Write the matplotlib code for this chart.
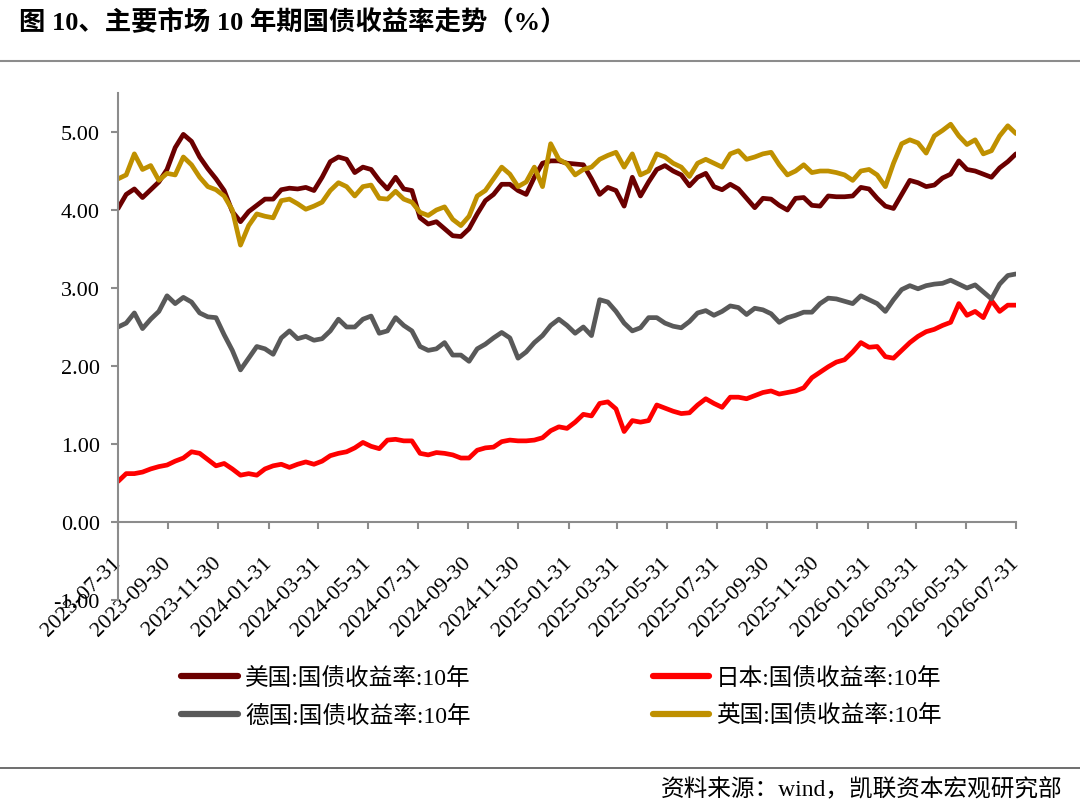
import numpy as np
import pandas as pd
import matplotlib

matplotlib.use("Agg")
from matplotlib import pyplot as plt
from matplotlib.lines import Line2D

plt.rcParams['font.family'] = ['Liberation Serif', 'Noto Sans CJK SC', 'DejaVu Sans']
plt.rcParams['axes.unicode_minus'] = False

# approx. every 10 days, 2023-07-31 .. 2026-07-31
us = [4.02, 4.20, 4.27, 4.16, 4.26, 4.36, 4.52, 4.80, 4.97, 4.88,
      4.68, 4.53, 4.40, 4.25, 3.98, 3.85, 3.98, 4.06, 4.14, 4.14,
      4.26, 4.28, 4.27, 4.29, 4.25, 4.42, 4.62, 4.68, 4.65, 4.48,
      4.55, 4.52, 4.38, 4.27, 4.42, 4.27, 4.25, 3.90, 3.82, 3.85,
      3.76, 3.67, 3.66, 3.76, 3.95, 4.12, 4.20, 4.33, 4.33, 4.25,
      4.20, 4.42, 4.60, 4.63, 4.63, 4.60, 4.59, 4.58, 4.40, 4.20,
      4.29, 4.25, 4.05, 4.42, 4.18, 4.36, 4.52, 4.57, 4.50, 4.45,
      4.31, 4.42, 4.47, 4.30, 4.26, 4.33, 4.27, 4.15, 4.03, 4.15,
      4.14, 4.06, 4.00, 4.15, 4.16, 4.06, 4.05, 4.18, 4.17, 4.17,
      4.18, 4.29, 4.27, 4.15, 4.05, 4.02, 4.20, 4.38, 4.35, 4.30,
      4.32, 4.41, 4.46, 4.63, 4.52, 4.50, 4.46, 4.42, 4.54, 4.62,
      4.72]
jp = [0.52, 0.62, 0.62, 0.64, 0.68, 0.71, 0.73, 0.78, 0.82, 0.90,
      0.88, 0.80, 0.72, 0.75, 0.68, 0.60, 0.62, 0.60, 0.68, 0.72,
      0.74, 0.70, 0.74, 0.77, 0.74, 0.78, 0.85, 0.88, 0.90, 0.95,
      1.02, 0.97, 0.94, 1.05, 1.06, 1.04, 1.04, 0.88, 0.86, 0.89,
      0.88, 0.86, 0.82, 0.82, 0.92, 0.95, 0.96, 1.03, 1.05, 1.04,
      1.04, 1.05, 1.08, 1.17, 1.22, 1.20, 1.28, 1.38, 1.36, 1.52,
      1.54, 1.45, 1.16, 1.30, 1.28, 1.30, 1.50, 1.46, 1.42, 1.39,
      1.40, 1.50, 1.58, 1.52, 1.47, 1.60, 1.60, 1.58, 1.62, 1.66,
      1.68, 1.64, 1.66, 1.68, 1.72, 1.85, 1.92, 1.99, 2.05, 2.08,
      2.18, 2.30, 2.24, 2.25, 2.12, 2.10, 2.20, 2.30, 2.38, 2.44,
      2.47, 2.52, 2.56, 2.80, 2.65, 2.70, 2.62, 2.84, 2.70, 2.78,
      2.78]
de = [2.50, 2.55, 2.68, 2.48, 2.60, 2.70, 2.90, 2.80, 2.88, 2.82,
      2.68, 2.63, 2.62, 2.40, 2.20, 1.95, 2.10, 2.25, 2.22, 2.15,
      2.36, 2.45, 2.35, 2.38, 2.33, 2.35, 2.45, 2.60, 2.50, 2.50,
      2.60, 2.64, 2.42, 2.45, 2.62, 2.52, 2.45, 2.25, 2.20, 2.22,
      2.30, 2.14, 2.14, 2.06, 2.22, 2.28, 2.36, 2.43, 2.36, 2.10,
      2.18, 2.30, 2.39, 2.52, 2.60, 2.52, 2.42, 2.50, 2.39, 2.85,
      2.82, 2.70, 2.55, 2.45, 2.49, 2.62, 2.62, 2.55, 2.51, 2.49,
      2.57, 2.68, 2.71, 2.65, 2.70, 2.77, 2.75, 2.66, 2.74, 2.72,
      2.67, 2.56, 2.62, 2.65, 2.69, 2.69, 2.80, 2.87, 2.86, 2.83,
      2.80, 2.90, 2.85, 2.80, 2.70, 2.85, 2.98, 3.03, 2.99, 3.03,
      3.05, 3.06, 3.10, 3.05, 3.00, 3.04, 2.95, 2.86, 3.05, 3.16,
      3.18]
uk = [4.40, 4.45, 4.72, 4.52, 4.57, 4.38, 4.47, 4.45, 4.68, 4.58,
      4.42, 4.30, 4.26, 4.18, 4.00, 3.55, 3.80, 3.95, 3.92, 3.90,
      4.12, 4.14, 4.08, 4.01, 4.05, 4.10, 4.25, 4.35, 4.30, 4.18,
      4.30, 4.32, 4.15, 4.14, 4.24, 4.14, 4.10, 3.97, 3.93, 4.00,
      4.04, 3.88, 3.80, 3.92, 4.18, 4.25, 4.40, 4.55, 4.46, 4.30,
      4.36, 4.55, 4.30, 4.85, 4.65, 4.59, 4.45, 4.52, 4.55, 4.65,
      4.70, 4.74, 4.55, 4.72, 4.45, 4.50, 4.72, 4.68, 4.60, 4.55,
      4.43, 4.60, 4.65, 4.60, 4.55, 4.72, 4.76, 4.65, 4.68, 4.72,
      4.74, 4.58, 4.45, 4.50, 4.58, 4.48, 4.50, 4.50, 4.48, 4.45,
      4.38, 4.50, 4.52, 4.45, 4.30, 4.60, 4.85, 4.90, 4.86, 4.73,
      4.95, 5.02, 5.10, 4.95, 4.84, 4.90, 4.72, 4.76, 4.95, 5.08,
      4.98]

dates = pd.date_range('2023-07-31', '2026-07-31', periods=len(us))
tick_dates = pd.to_datetime(['2023-07-31', '2023-09-30', '2023-11-30', '2024-01-31',
                             '2024-03-31', '2024-05-31', '2024-07-31', '2024-09-30',
                             '2024-11-30', '2025-01-31', '2025-03-31', '2025-05-31',
                             '2025-07-31', '2025-09-30', '2025-11-30', '2026-01-31',
                             '2026-03-31', '2026-05-31', '2026-07-31'])

us_name = '美国:国债收益率:10年'
jp_name = '日本:国债收益率:10年'
de_name = '德国:国债收益率:10年'
uk_name = '英国:国债收益率:10年'
colors = {us_name: '#6B0000', jp_name: '#FF0000', de_name: '#595959', uk_name: '#BF9000'}
values = {us_name: us, jp_name: jp, de_name: de, uk_name: uk}

fig = plt.figure(figsize=(10.8, 8.12), dpi=100)
ax = fig.add_axes([0.1093, 0.2599, 0.8314, 0.6243])

for name in (us_name, jp_name, de_name, uk_name):
    ax.plot(dates, values[name], color=colors[name], lw=3.4, solid_capstyle='round',
            solid_joinstyle='round')

ax.set_xlim(tick_dates[0], tick_dates[-1])
ax.set_ylim(-1.0, 5.5)
yt = np.arange(-1, 6, 1)
ax.set_yticks(yt)
ax.set_yticklabels(['%.2f' % v for v in yt])
ax.set_xticks(tick_dates)
ax.set_xticklabels([d.strftime('%Y-%m-%d') for d in tick_dates])

ax.spines['top'].set_visible(False)
ax.spines['right'].set_visible(False)
ax.spines['bottom'].set_position(('data', 0))
for s in ('left', 'bottom'):
    ax.spines[s].set_color('#8C8C8C')
    ax.spines[s].set_linewidth(1.5)
ax.tick_params(axis='both', colors='#8C8C8C', width=1.5, length=5, labelsize=16,
               labelcolor='black')
ax.tick_params(axis='y', pad=8)
ax.tick_params(axis='x', pad=22)
plt.setp(ax.get_xticklabels(), rotation=45, ha='right', va='center',
         rotation_mode='anchor')

# legend fills column-wise: order so rows read US/JP then DE/UK
order = [us_name, de_name, jp_name, uk_name]
handles = [Line2D([], [], color=colors[n], lw=4.5, solid_capstyle='round') for n in order]
fig.legend(handles, order, loc='center', ncol=2,
           bbox_to_anchor=(0.52, 0.140), frameon=False, fontsize=17,
           handlelength=2.4, handletextpad=0.3, columnspacing=7.7, labelspacing=0.66)

fig.text(0.018, 0.972, '图 10、主要市场 10 年期国债收益率走势（%）', fontsize=19,
         fontweight='bold', va='center', ha='left')
fig.add_artist(Line2D([0, 1], [0.924, 0.924], color='#8C8C8C', lw=1.5))
fig.add_artist(Line2D([0, 1], [0.053, 0.053], color='#555555', lw=1.2))
fig.text(0.984, 0.027, '资料来源：wind，凯联资本宏观研究部', fontsize=17,
         va='center', ha='right')

fig.savefig('out.png', dpi=100)
